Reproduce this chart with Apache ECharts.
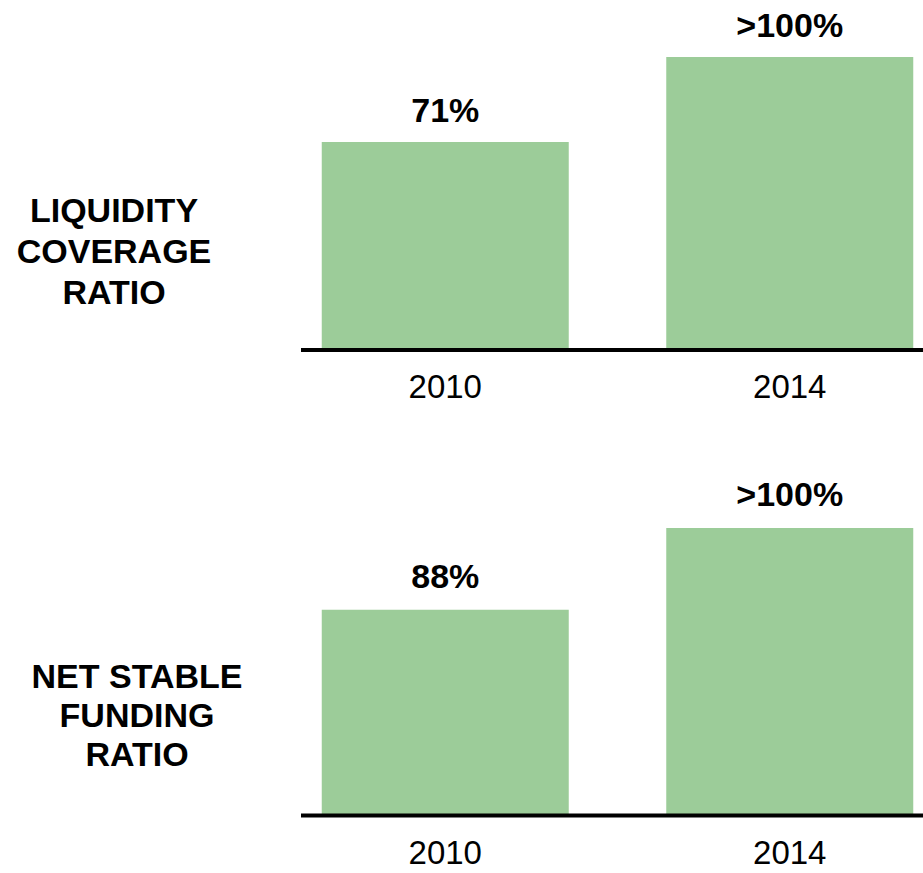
<!DOCTYPE html>
<html>
<head>
<meta charset="utf-8">
<script src="https://cdn.jsdelivr.net/npm/echarts@6/dist/echarts.min.js"></script>
<style>
html,body{margin:0;padding:0;background:#fff;}
#chart{width:923px;height:873px;}
</style>
</head>
<body>
<div id="chart"></div>
<script>
var categories = ['2010', '2014'];
var lcrValues = [71, 100];
var lcrLabels = ['71%', '>100%'];
var nsfrValues = [88, 123];
var nsfrLabels = ['88%', '>100%'];
var panelTitles = ['LIQUIDITY\nCOVERAGE\nRATIO', 'NET STABLE\nFUNDING\nRATIO'];

var FONT = '"Liberation Sans", Arial, Helvetica, sans-serif';
var GREEN = '#9CCC99';

var chart = echarts.init(document.getElementById('chart'), null, {renderer: 'svg'});

function xAx(gi) {
  return {
    type: 'category', gridIndex: gi, data: categories,
    axisLine: {show: false}, axisTick: {show: false},
    axisLabel: {color: '#000', fontSize: 33, fontFamily: FONT, margin: 20}
  };
}
function yAx(gi, max) {
  return {type: 'value', gridIndex: gi, min: 0, max: max, show: false, splitLine: {show: false}};
}
function barSeries(gi, values, labels, dist) {
  return {
    type: 'bar', xAxisIndex: gi, yAxisIndex: gi, data: values, barWidth: 247,
    itemStyle: {color: GREEN},
    label: {
      show: true, position: 'top', distance: dist,
      color: '#000', fontSize: 34, fontWeight: 'bold', fontFamily: FONT,
      formatter: function (p) { return labels[p.dataIndex]; }
    },
    silent: true, animation: false
  };
}

chart.setOption({
  backgroundColor: '#fff',
  animation: false,
  grid: [
    {left: 273, width: 689, top: 57, height: 293, outerBoundsMode: 'none', containLabel: false},
    {left: 273, width: 689, top: 528, height: 287.5, outerBoundsMode: 'none', containLabel: false}
  ],
  xAxis: [xAx(0), xAx(1)],
  yAxis: [yAx(0, Math.max.apply(null, lcrValues)), yAx(1, Math.max.apply(null, nsfrValues))],
  series: [barSeries(0, lcrValues, lcrLabels, 15), barSeries(1, nsfrValues, nsfrLabels, 17)],
  graphic: [
    {type: 'line', z: 100, shape: {x1: 301, y1: 350, x2: 923, y2: 350}, style: {stroke: '#000', lineWidth: 4}},
    {type: 'line', z: 100, shape: {x1: 301, y1: 815.5, x2: 923, y2: 815.5}, style: {stroke: '#000', lineWidth: 4}},
    {type: 'text', x: 114, y: 251, style: {text: panelTitles[0], align: 'center', verticalAlign: 'middle', fontSize: 34, fontWeight: 'bold', fontFamily: FONT, lineHeight: 41, fill: '#000'}},
    {type: 'text', x: 137, y: 715, style: {text: panelTitles[1], align: 'center', verticalAlign: 'middle', fontSize: 34, fontWeight: 'bold', fontFamily: FONT, lineHeight: 39, fill: '#000'}}
  ]
});
</script>
</body>
</html>
